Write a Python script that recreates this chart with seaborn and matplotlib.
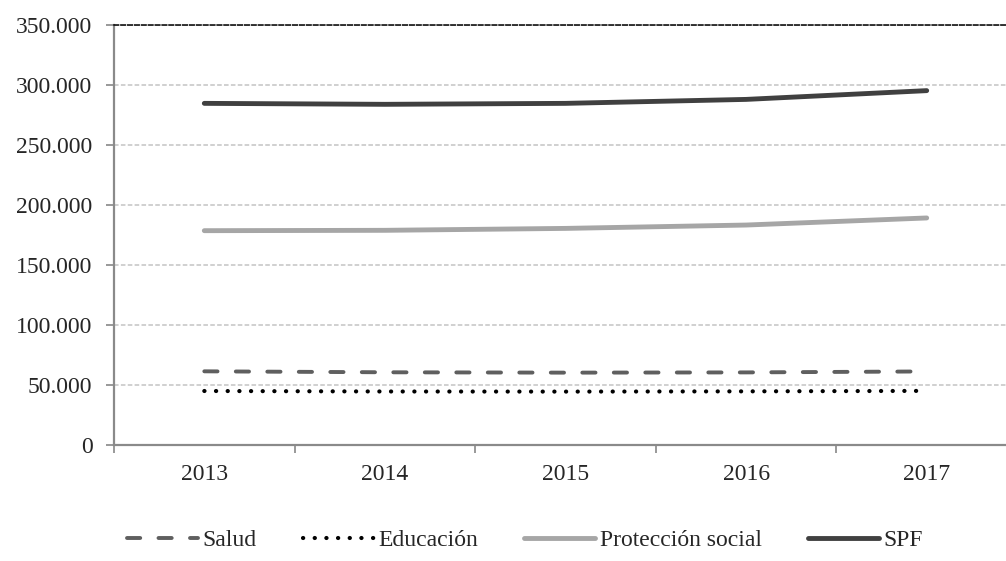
import matplotlib
matplotlib.use("Agg")
import matplotlib.pyplot as plt
import matplotlib.ticker as mticker
import seaborn as sns
import pandas as pd
import numpy as np

years = ["2013", "2014", "2015", "2016", "2017"]
salud = [61400, 60600, 60300, 60500, 61300]
educacion = [45000, 44600, 44500, 44700, 45100]
proteccion = [178600, 178900, 180500, 183300, 189200]
spf = [284700, 283900, 284700, 288000, 295300]

series = {
    "Salud": salud,
    "Educación": educacion,
    "Protección social": proteccion,
    "SPF": spf,
}
styles = {
    "Salud": dict(color="#5f5f5f", lw=2.8, ls=(0, (3.4, 4.7)), cap="round"),
    "Educación": dict(color="#000000", lw=3.0, ls=(0, (0.05, 2.75)), cap="round"),
    "Protección social": dict(color="#a6a6a6", lw=3.5, ls="-", cap="round"),
    "SPF": dict(color="#404040", lw=3.5, ls="-", cap="round"),
}

sns.set_style("white")
plt.rcParams["font.family"] = ["Liberation Serif", "DejaVu Serif"]
fs = 17

df = pd.DataFrame({"x": np.arange(len(years))})
fig = plt.figure(figsize=(10.06, 5.61), dpi=100)
ax = fig.add_axes([114 / 1006, (561 - 445) / 561, 903 / 1006, 420 / 561])

for name, vals in series.items():
    st = styles[name]
    sns.lineplot(x=df["x"], y=vals, ax=ax, color=st["color"], linewidth=st["lw"],
                 linestyle=st["ls"], label=name, dash_capstyle=st["cap"],
                 solid_capstyle=st["cap"])

ax.set_xlim(-0.5, len(years) - 0.5)
ax.set_ylim(0, 350000)
ax.yaxis.set_major_locator(mticker.MultipleLocator(50000))
ax.yaxis.set_major_formatter(mticker.FuncFormatter(lambda v, p: f"{int(v):,}".replace(",", ".")))
ax.xaxis.set_major_locator(mticker.FixedLocator(np.arange(-0.5, len(years), 1.0)))
ax.xaxis.set_major_formatter(mticker.NullFormatter())
ax.xaxis.set_minor_locator(mticker.FixedLocator(np.arange(len(years))))
ax.xaxis.set_minor_formatter(mticker.FixedFormatter(years))
ax.tick_params(axis="x", which="major", length=5.5, width=1.2, color="#888888", direction="out", bottom=True)
ax.tick_params(axis="x", which="minor", length=0, pad=14, labelsize=fs, bottom=True)
ax.tick_params(axis="y", length=5.5, width=1.2, color="#888888", direction="out", pad=10, labelsize=fs, left=True)

ax.grid(axis="y", color="#c4c4c4", linestyle=(0, (3, 1.5)), linewidth=1.1)
ax.set_axisbelow(True)
for s in ["left", "bottom"]:
    ax.spines[s].set_color("#8a8a8a")
    ax.spines[s].set_linewidth(1.6)
ax.spines["right"].set_visible(False)
ax.spines["top"].set_color("black")
ax.spines["top"].set_linewidth(1.1)
ax.spines["top"].set_linestyle((0, (3, 1.5)))
ax.set_xlabel("")
ax.set_ylabel("")

handles, labels = ax.get_legend_handles_labels()
ax.legend_.remove()
fig.legend(handles, labels, loc="center", bbox_to_anchor=(0.522, 0.037), ncol=4,
           frameon=False, fontsize=fs, handlelength=3.0, handletextpad=0.2,
           columnspacing=1.95)

fig.savefig("out.png", dpi=100)
